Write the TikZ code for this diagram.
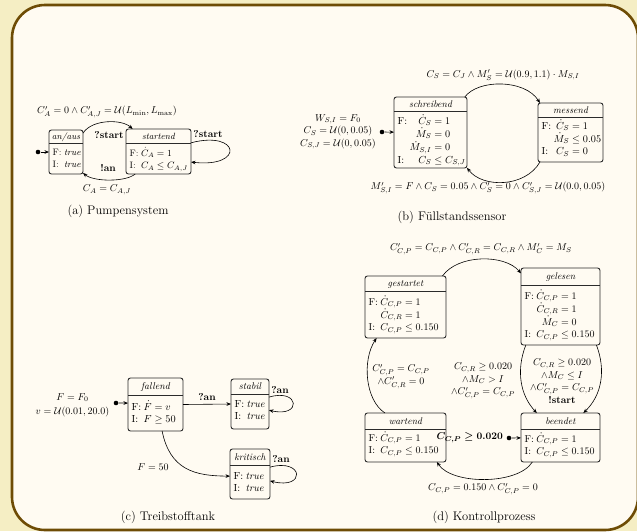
\RequirePackage{fix-cm}
\documentclass[tikz,border=0pt]{standalone}
\usetikzlibrary{arrows.meta}
\definecolor{outerbg}{HTML}{F5EEC4}
\definecolor{innerbg}{HTML}{FFFBF2}
\definecolor{framec}{HTML}{6E4C05}
\definecolor{boxc}{HTML}{2B2B2B}
\newcommand\bsz{10}
\newcommand\hsz{9.6}
\newcommand\capfont{\fontsize{12.5}{15}\selectfont}
\newcommand\lblfont{\fontsize{10}{12.5}\selectfont}
\newcommand\bodyfont{\fontsize{\bsz}{12.5}\selectfont}
\newcommand\hdrfont{\fontsize{\hsz}{12}\selectfont\itshape}
\newcommand\bmlblfont{\fontsize{10}{12.5}\selectfont\mathversion{bold}}
\tikzset{
 statebox/.style={draw=boxc, line width=0.9pt, rounded corners=2.5pt, fill=innerbg, anchor=north west, inner sep=0pt, outer sep=0pt},
 sepline/.style={draw=boxc, line width=0.8pt},
 hdr/.style={font=\hdrfont, inner sep=0pt, anchor=base},
 body/.style={font=\bodyfont, inner sep=0pt, anchor=base west},
 trans/.style={draw=black, line width=0.6pt, -{Stealth[length=4.5pt,width=3.6pt]}},
 initdot/.style={circle, fill=black, inner sep=0pt, minimum size=4.6pt},
 lbl/.style={font=\lblfont, inner sep=0pt, align=center},
 blbl/.style={font=\lblfont\bfseries, inner sep=0pt},
 bmlbl/.style={font=\bmlblfont, inner sep=0pt},
 capt/.style={font=\capfont, inner sep=0pt},
}
% name, left, top, right, bottom, sep y, first row y, header, rows
\newcommand\mkstate[9]{%
  \node[statebox, minimum width={(#4-#2)*1pt}, minimum height={(#5-#3)*1pt}] (#1) at (#2,#3) {};
  \draw[sepline] (#2,#6) -- (#4,#6);
  \node[hdr] (#1-h) at ({(#2+#4)/2},{(#3+#6)/2+3.3}) {#8};
  \node[body] (#1-b) at (#2+3.5,#7+3.3) {\begin{tabular}[t]{@{}l@{\hspace{2.4pt}}r@{}l@{}}#9\end{tabular}};
}
\begin{document}
\begin{tikzpicture}[x=1pt,y=-1pt]
\useasboundingbox (0,0) rectangle (637,531);
\fill[outerbg] (0,0) rectangle (637,531);
\draw[framec, line width=2.6pt, fill=innerbg, rounded corners=33pt] (12,5) rectangle (638,530);

% ---------- (a) Pumpensystem
\renewcommand\bsz{9.3}\renewcommand\hsz{9}
\mkstate{anaus}{49}{130}{83}{174}{143}{152}{an/aus}{F: & & \textit{true}\\ I: & & \textit{true}}
\mkstate{startend}{126}{129}{191}{174}{143}{153}{startend}{F: & $\dot C_A$ & ${}=1$\\ I: & $C_A$ & ${}\leq C_{A,J}$}
\node[initdot] (ia) at (38,152) {};
\draw[trans] (ia) -- (anaus);
\draw[trans] (anaus.48) .. controls (92,119) and (122,119) .. (startend.139);
\draw[trans] (startend.224) .. controls (126,182) and (94,182) .. (anaus.309);
\draw[trans] (startend.15) .. controls (240,130) and (245,168) .. (startend.342);
\node[lbl] (a-l1) at (107,112) {$C'_A = 0 \land C'_{A,J} = \mathcal{U}(L_{\mathrm{min}}, L_{\mathrm{max}})$};
\node[blbl] (a-l2) at (109,135) {?start};
\node[blbl] (a-l3) at (108,168) {!an};
\node[lbl] (a-l4) at (107,190) {$C_A = C_{A,J}$};
\node[blbl] (a-l5) at (208,134) {?start};
\node[capt] (a-cap) at (118,211) {(a) Pumpensystem};

% ---------- (b) Fuellstandssensor
\renewcommand\bsz{10.2}\renewcommand\hsz{9.6}
\mkstate{schreibend}{394}{97}{467}{168}{111}{121}{schreibend}{F: & $\dot C_S$ & ${}=1$\\ & $\dot M_S$ & ${}=0$\\ & $\dot M_{S,I}$ & ${}=0$\\ I: & $C_S$ & ${}\leq C_{S,J}$}
\mkstate{messend}{538}{103}{603}{162}{117}{126}{messend}{F: & $\dot C_S$ & ${}=1$\\ & $\dot M_S$ & ${}\leq 0.05$\\ I: & $C_S$ & ${}=0$}
\node[initdot] (ib) at (382,132) {};
\draw[trans] (ib) -- (schreibend);
\draw[trans] (schreibend.46) .. controls (478,79) and (525,79) .. (messend.136);
\draw[trans] (messend.224) .. controls (525,188) and (482,188) .. (schreibend.316);
\node[lbl] (b-l1) at (503,75) {$C_S = C_J \land M'_S = \mathcal{U}(0.9, 1.1)\cdot M_{S,I}$};
\node[lbl] (b-l2) at (488,188) {$M'_{S,I} = F \land C_S = 0.05 \land C'_S = 0 \land C'_{S,J} = \mathcal{U}(0.0, 0.05)$};
\node[lbl] (b-l3) at (338,132) {$W_{S,I} = F_0$\\ $C_S = \mathcal{U}(0, 0.05)$\\ $C_{S,J} = \mathcal{U}(0, 0.05)$};
\node[capt] (b-cap) at (452,217) {(b) Füllstandssensor};

% ---------- (c) Treibstofftank
\renewcommand\bsz{10.3}\renewcommand\hsz{9.8}
\mkstate{fallend}{128}{378}{183}{431}{395}{407}{fallend}{F: & $\dot F$ & ${}=v$\\ I: & $F$ & ${}\geq 50$}
\mkstate{stabil}{231}{379}{269}{429}{394}{404}{stabil}{F: & & \textit{true}\\ I: & & \textit{true}}
\mkstate{kritisch}{230}{449}{270}{499}{465}{476}{kritisch}{F: & & \textit{true}\\ I: & & \textit{true}}
\node[initdot] (ic) at (116,403) {};
\draw[trans] (ic) -- (fallend.177);
\draw[trans] (fallend.east) -- (stabil.west);
\draw[trans] (stabil.20) .. controls (300,388) and (302,418) .. (stabil.342);
\draw[trans] (kritisch.19) .. controls (304,458) and (306,490) .. (kritisch.341);
\draw[trans] (fallend.284) .. controls (170,470) and (195,476) .. (kritisch.186);
\node[lbl] (c-l1) at (72.5,405) {$F = F_0$\\[1.5pt] $v = \mathcal{U}(0.01, 20.0)$};
\node[blbl] (c-l2) at (207,397) {?an};
\node[blbl] (c-l3) at (280,390) {?an};
\node[blbl] (c-l4) at (281,459) {?an};
\node[lbl] (c-l5) at (153,467) {$F = 50$};
\node[capt] (c-cap) at (168,517) {(c) Treibstofftank};

% ---------- (d) Kontrollprozess
\renewcommand\bsz{10}\renewcommand\hsz{9.6}
\mkstate{gestartet}{365}{276}{446}{338}{291}{302}{gestartet}{F: & $\dot C_{C,P}$ & ${}=1$\\ & $\dot C_{C,R}$ & ${}=1$\\ I: & $C_{C,P}$ & ${}\leq 0.150$}
\mkstate{gelesen}{521}{268}{600}{345}{285}{296}{gelesen}{F: & $\dot C_{C,P}$ & ${}=1$\\ & $\dot C_{C,R}$ & ${}=1$\\ & $\dot M_C$ & ${}=0$\\ I: & $C_{C,P}$ & ${}\leq 0.150$}
\mkstate{wartend}{365}{413}{446}{462}{429}{438}{wartend}{F: & $\dot C_{C,P}$ & ${}=1$\\ I: & $C_{C,P}$ & ${}\leq 0.150$}
\mkstate{beendet}{521}{413}{600}{462}{429}{439}{beendet}{F: & $\dot C_{C,P}$ & ${}=1$\\ I: & $C_{C,P}$ & ${}\leq 0.150$}
\node[initdot] (id) at (509,438) {};
\draw[trans] (id) -- (beendet);
\draw[trans] (gestartet.40) .. controls (458,254) and (505,254) .. (gelesen.140);
\draw[trans] (gelesen.228) .. controls (516,370) and (520,395) .. (beendet.134);
\draw[trans] (gelesen.313) .. controls (606,370) and (602,395) .. (beendet.47);
\draw[trans] (wartend.130) .. controls (365,400) and (362,360) .. (gestartet.227);
\draw[trans] (beendet.221) .. controls (518,485) and (452,485) .. (wartend.322);
\node[lbl] (d-l1) at (481,249) {$C'_{C,P} = C_{C,P} \land C'_{C,R} = C_{C,R} \land M'_C = M_S$};
\node[lbl] (d-l2) at (401,376.5) {$C'_{C,P} = C_{C,P}$\\ $\land C'_{C,R} = 0$};
\node[lbl] (d-l3) at (483,381) {$C_{C,R} \geq 0.020$\\ $\land M_C > I$\\ $\land C'_{C,P} = C_{C,P}$};
\node[lbl] (d-l4) at (562,381) {$C_{C,R} \geq 0.020$\\ $\land M_C \leq I$\\ $\land C'_{C,P} = C_{C,P}$\\ \textbf{!start}};
\node[lbl] (d-l5) at (483,489) {$C_{C,P} = 0.150 \land C'_{C,P} = 0$};
\node[bmlbl, anchor=east] (dlsix) at (503,437.5) {$C_{C,P} \geq 0.020$};
\node[capt] (d-cap) at (484,517) {(d) Kontrollprozess};
\end{tikzpicture}
\end{document}
